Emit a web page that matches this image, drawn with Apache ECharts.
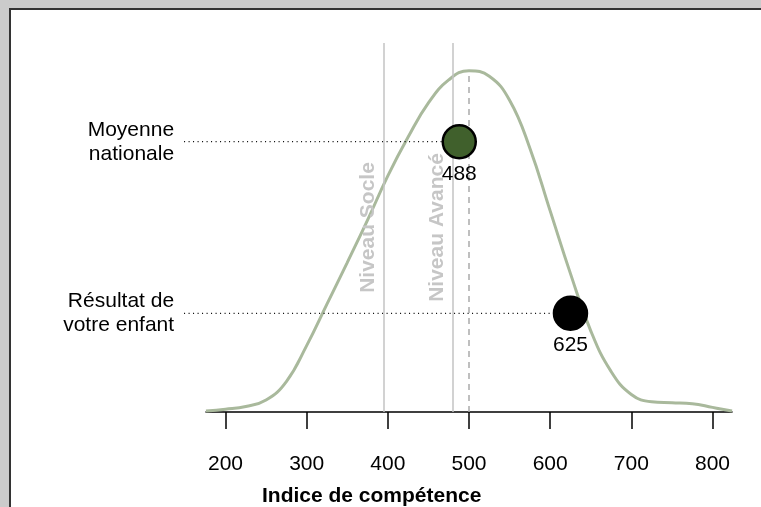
<!DOCTYPE html>
<html>
<head>
<meta charset="utf-8">
<title>Indice de compétence</title>
<script src="https://cdn.jsdelivr.net/npm/echarts@6/dist/echarts.min.js"></script>
<style>
  html, body { margin: 0; padding: 0; background: #cbcbcb; }
  #main { width: 761px; height: 507px; }
</style>
</head>
<body>
<div id="main"></div>
<script>
// courbe de densité (score, densité en pour mille)
var scores = [176, 200, 225, 250, 275, 300, 325, 350, 375, 400, 425, 450, 475, 500,
  525, 550, 575, 600, 625, 650, 675, 700, 725, 750, 775, 800, 824];
var densities = [0.01, 0.03, 0.06, 0.13, 0.33, 0.72, 1.17, 1.62, 2.08, 2.56, 2.98, 3.35, 3.60, 3.70,
  3.64, 3.38, 2.86, 2.18, 1.50, 0.88, 0.44, 0.19, 0.11, 0.10, 0.09, 0.05, 0.01];

// repères
var pointNames = ["Moyenne\nnationale", "Résultat de\nvotre enfant"];
var pointScores = [488, 625];
var pointRows = [2.93, 1.07];
var pointColors = ["#40602c", "#000000"];
var levelNames = ["Niveau Socle", "Niveau Avancé"];
var levelScores = [395, 480];
var meanScore = 500;
var meanPeak = 3.70;
var tickValues = [200, 300, 400, 500, 600, 700, 800];
var leaderStart = 149;

var font = "'Liberation Sans', Arial, Helvetica, sans-serif";

var curve = [];
for (var i = 0; i < scores.length; i++) {
  curve.push([scores[i], densities[i]]);
}

var leaders = [];
for (var j = 0; j < pointNames.length; j++) {
  leaders.push([leaderStart, pointRows[j], pointScores[j]]);
}

var levelLines = [];
for (var k = 0; k < levelNames.length; k++) {
  levelLines.push({
    xAxis: levelScores[k],
    lineStyle: { color: '#c3c3c3', width: 1.5, type: 'solid' },
    label: {
      show: true, formatter: levelNames[k], position: 'insideMiddleTop',
      color: '#c6c6c6', fontSize: 21, fontWeight: 'bold', fontFamily: font, distance: 5
    }
  });
}
levelLines.push([
  { coord: [meanScore, 0], lineStyle: { color: '#aaaaaa', width: 1.5, type: [6, 5] }, label: { show: false } },
  { coord: [meanScore, meanPeak] }
]);

var marks = [];
for (var m = 0; m < pointScores.length; m++) {
  marks.push({
    value: [pointScores[m], pointRows[m]],
    itemStyle: { color: pointColors[m], borderColor: '#000', borderWidth: 2.5, opacity: 1 }
  });
}

var myChart = echarts.init(document.getElementById('main'));
var option = {
  animation: false,
  backgroundColor: '#cbcbcb',
  graphic: [{
    type: 'rect', z: -10, silent: true,
    shape: { x: 10, y: 9, width: 800, height: 600 },
    style: { fill: '#ffffff', stroke: '#333333', lineWidth: 2 }
  }],
  title: {
    text: 'Indice de compétence',
    left: 257, top: 481,
    textStyle: { fontSize: 21, fontWeight: 'bold', color: '#000', fontFamily: font }
  },
  grid: { left: 206, right: 29, top: 43, bottom: 95 },
  xAxis: {
    type: 'value', min: 176, max: 824,
    splitLine: { show: false },
    axisLine: { show: true, onZero: false, lineStyle: { color: '#000', width: 1.5 } },
    axisTick: { show: true, length: 17, customValues: tickValues, lineStyle: { color: '#000', width: 1.5 } },
    axisLabel: { customValues: tickValues, margin: 42, color: '#000', fontSize: 21, fontFamily: font }
  },
  yAxis: {
    type: 'value', min: 0, max: 4, show: false,
    splitLine: { show: false }
  },
  series: [
    {
      // lignes pointillées + libellés à gauche
      type: 'custom',
      silent: true,
      z: 3,
      data: leaders,
      renderItem: function (params, api) {
        var y = api.value(1);
        var a = api.coord([api.value(0), y]);
        var b = api.coord([api.value(2), y]);
        return {
          type: 'group',
          children: [
            {
              type: 'line',
              shape: { x1: a[0], y1: a[1], x2: b[0], y2: b[1] },
              style: { stroke: '#000', lineWidth: 1.2, lineDash: [1, 3.5] }
            },
            {
              type: 'text',
              style: {
                text: pointNames[params.dataIndex],
                x: a[0] - 10, y: a[1],
                align: 'right', verticalAlign: 'middle',
                fontSize: 21, lineHeight: 24, fontFamily: font, fill: '#000'
              }
            }
          ]
        };
      }
    },
    {
      type: 'line',
      data: curve,
      smooth: 0.45,
      symbol: 'none',
      silent: true,
      lineStyle: { color: '#a9b99c', width: 3 },
      z: 2,
      markLine: {
        silent: true,
        symbol: 'none',
        animation: false,
        data: levelLines
      }
    },
    {
      type: 'scatter',
      data: marks,
      symbolSize: 33,
      z: 5,
      label: {
        show: true, position: 'bottom', distance: 4,
        formatter: function (p) { return p.value[0]; },
        color: '#000', fontSize: 21, fontFamily: font
      }
    }
  ]
};
myChart.setOption(option);
</script>
</body>
</html>
